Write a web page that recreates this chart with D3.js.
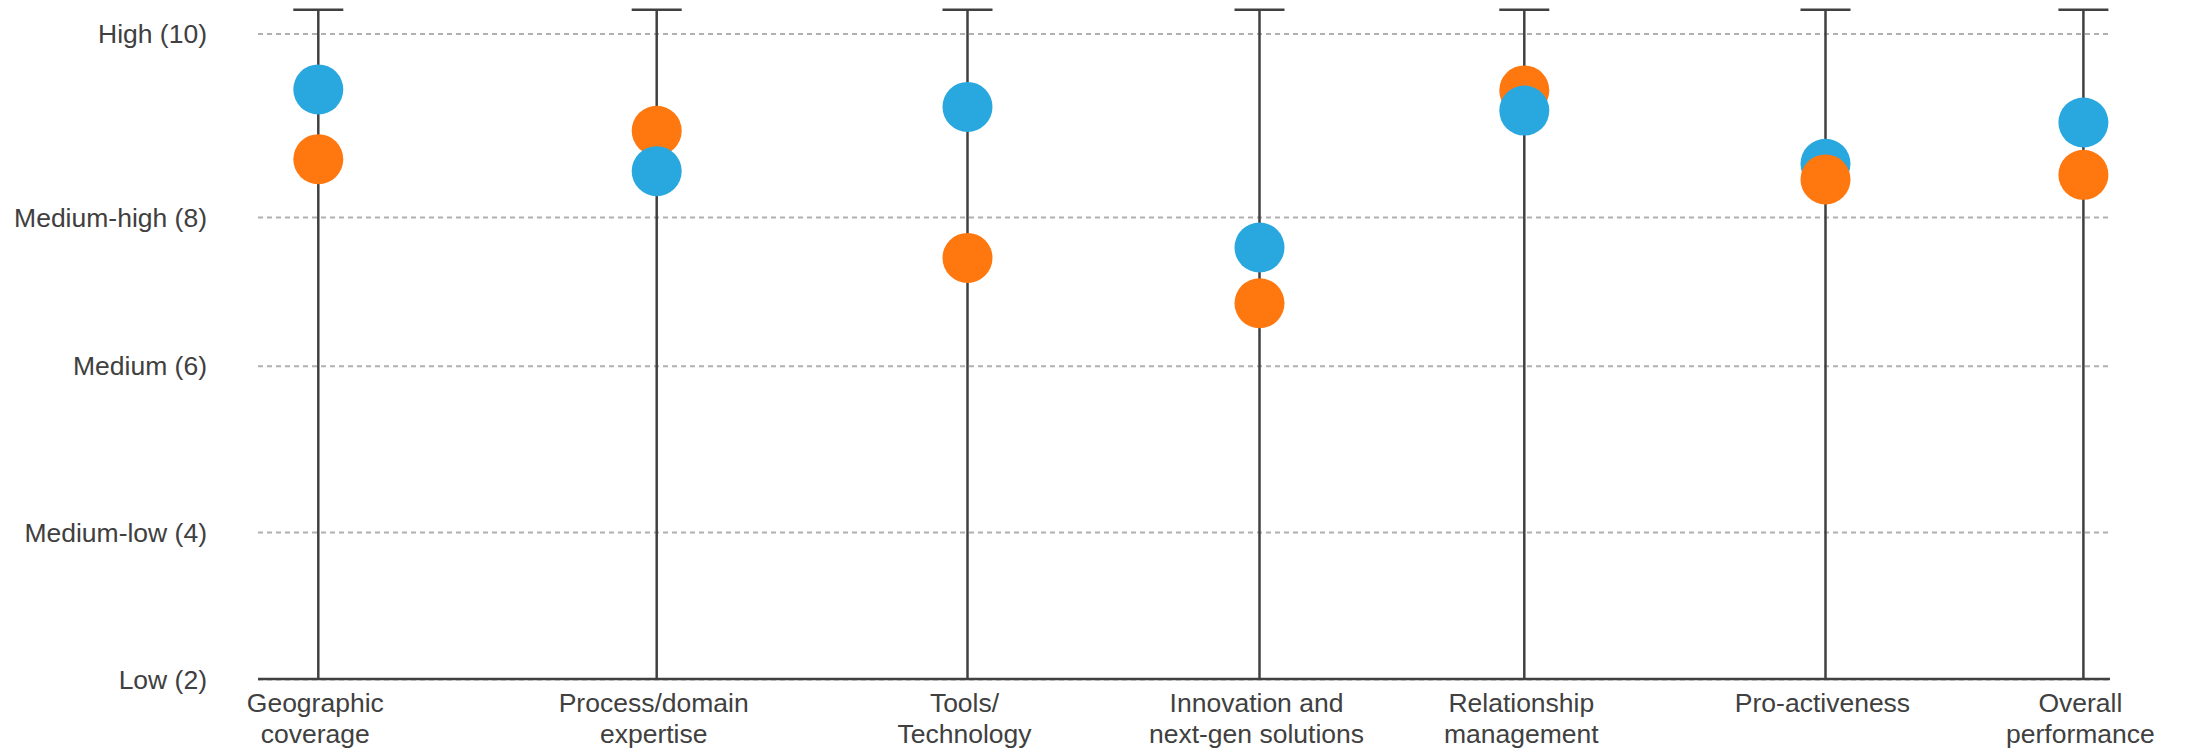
<!DOCTYPE html>
<html>
<head>
<meta charset="utf-8">
<script src="https://cdn.jsdelivr.net/npm/d3@7"></script>
<style>
  html, body { margin: 0; padding: 0; background: #ffffff; }
  svg { display: block; }
  text { font-family: "Liberation Sans", Arial, Helvetica, sans-serif; fill: #404040; }
</style>
</head>
<body>
<svg id="chart" width="2188" height="751"></svg>
<script>
// ---------------- DATA ----------------
const categories = [
  "Geographic coverage",
  "Process/domain expertise",
  "Tools/ Technology",
  "Innovation and next-gen solutions",
  "Relationship management",
  "Pro-activeness",
  "Overall performance"
];
const categoryLines = [
  ["Geographic", "coverage"],
  ["Process/domain", "expertise"],
  ["Tools/", "Technology"],
  ["Innovation and", "next-gen solutions"],
  ["Relationship", "management"],
  ["Pro-activeness"],
  ["Overall", "performance"]
];
const blueValues   = [9.39, 8.50, 9.20, 7.59, 9.16, 8.58, 9.03];
const orangeValues = [8.63, 8.94, 7.45, 6.84, 9.38, 8.41, 8.46];
const whiskerMax = 10.26;
const scaleMin = 2;
const tickValues = [2, 4, 6, 8, 10];
const tickLabels = ["Low (2)", "Medium-low (4)", "Medium (6)", "Medium-high (8)", "High (10)"];

// ---------------- LAYOUT ----------------
const W = 2188, H = 751;
const plotLeft = 258, plotRight = 2110;
const gridY = [679, 532, 365.7, 217, 33.5];           // pixel position of each tick level
const catX = [318.3, 656.7, 967.5, 1259.5, 1524.3, 1825.5, 2083.4]; // column centres
const dotR = 25;
const fontSize = 26.5;
const colors = { blue: "#29a8e0", orange: "#ff770f" };
const axisColor = "#404040";

const svg = d3.select("#chart");

const y = d3.scaleLinear().domain(tickValues).range(gridY);
const x = d3.scaleOrdinal().domain(categories).range(catX);

// Y axis with dashed gridlines
const yAxis = d3.axisLeft(y)
  .tickValues(tickValues)
  .tickFormat((d, i) => tickLabels[i])
  .tickSize(-(plotRight - plotLeft))
  .tickPadding(51);

const gy = svg.append("g")
  .attr("transform", `translate(${plotLeft},0)`)
  .call(yAxis);
gy.select(".domain").remove();
gy.selectAll(".tick line")
  .attr("stroke", "#b0b0b0")
  .attr("stroke-width", 2)
  .attr("stroke-dasharray", "5,4");
gy.selectAll(".tick text")
  .attr("font-size", fontSize)
  .attr("fill", "#404040")
  .attr("dy", "0.34em");

// baseline
svg.append("line")
  .attr("x1", plotLeft).attr("x2", plotRight)
  .attr("y1", y(scaleMin)).attr("y2", y(scaleMin))
  .attr("stroke", axisColor).attr("stroke-width", 2.5);

// whiskers
const whiskers = svg.append("g");
categories.forEach(c => {
  whiskers.append("line")
    .attr("x1", x(c)).attr("x2", x(c))
    .attr("y1", y(scaleMin)).attr("y2", y(whiskerMax))
    .attr("stroke", axisColor).attr("stroke-width", 2.5);
  whiskers.append("line")
    .attr("x1", x(c) - dotR).attr("x2", x(c) + dotR)
    .attr("y1", y(whiskerMax)).attr("y2", y(whiskerMax))
    .attr("stroke", axisColor).attr("stroke-width", 2.5);
});

// dots: per category, higher value drawn first so the lower one sits on top
const dots = [];
categories.forEach((c, i) => {
  const pair = [
    { cat: c, series: "blue", value: blueValues[i] },
    { cat: c, series: "orange", value: orangeValues[i] }
  ].sort((a, b) => b.value - a.value);
  dots.push(...pair);
});
svg.append("g").selectAll("circle")
  .data(dots)
  .join("circle")
  .attr("cx", d => x(d.cat))
  .attr("cy", d => y(d.value))
  .attr("r", dotR)
  .attr("fill", d => colors[d.series]);

// category labels
const labels = svg.append("g");
categories.forEach((c, i) => {
  const t = labels.append("text")
    .attr("x", x(c))
    .attr("y", y(scaleMin) + 33)
    .attr("text-anchor", "middle")
    .attr("font-size", fontSize);
  categoryLines[i].forEach((ln, j) => {
    t.append("tspan")
      .attr("x", x(c) - 3)
      .attr("dy", j === 0 ? 0 : 30.5)
      .text(ln);
  });
});
</script>
</body>
</html>
